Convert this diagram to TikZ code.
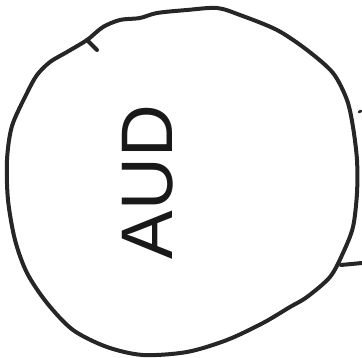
\documentclass[tikz,border=0pt]{standalone}
\usepackage{fontspec}
\setsansfont{Liberation Sans}
\usetikzlibrary{arrows.meta}

\begin{document}
\begin{tikzpicture}[
    x=1pt,
    y=1pt,
    pen/.style={draw=black!85, line width=4pt, line cap=round, line join=round},
    label/.style={font=\sffamily\fontsize{73}{73}\selectfont, text=black!90, inner sep=0pt}
  ]
    \useasboundingbox (0,0) rectangle (362,358);

    % hand-drawn circle
    \draw[pen] plot[smooth cycle, tension=0.5] coordinates {
      (50,296) (67,306) (87,318) (103,331) (120,338) (140,340)
      (157,345) (187,348) (217,350) (240,343) (277,328) (307,308)
      (333,285) (347,258) (353,231) (357,198) (357,165) (353,131)
      (343,105) (330,81) (307,61) (290,51) (263,35) (227,18) (187,6)
      (143,3) (107,11) (73,28) (47,55) (27,85) (15,118) (8,158)
      (7,198) (12,232) (27,265) (37,283)};
    \draw[pen] (87,318) -- (97,308);
    \draw[pen, line width=2.5pt] (359,246) -- (361,247);
    \draw[pen] (341,93) -- (362,95);

    \node[label, rotate=90] (aud) at (148,176) {AUD};
  \end{tikzpicture}
\end{document}
